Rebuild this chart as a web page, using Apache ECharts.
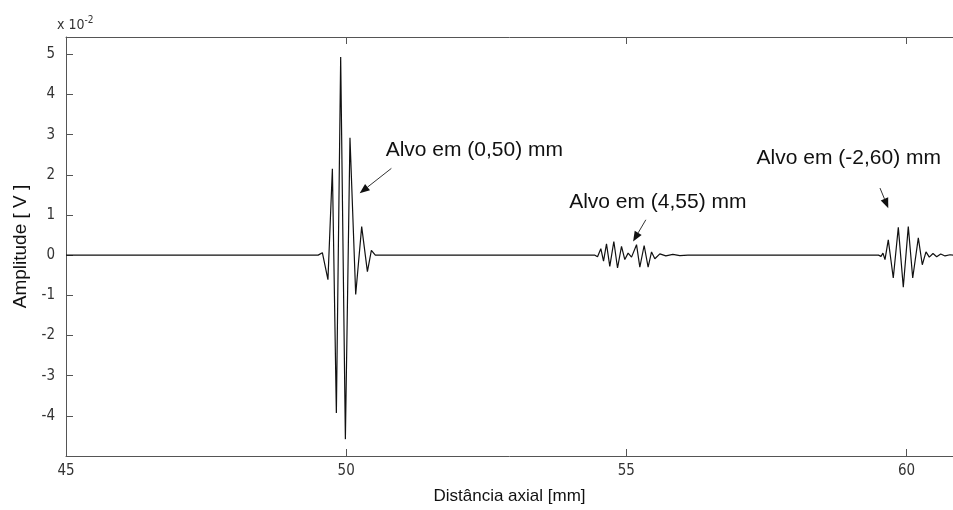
<!DOCTYPE html>
<html><head><meta charset="utf-8">
<script src="https://cdn.jsdelivr.net/npm/echarts/dist/echarts.min.js"></script>
<style>html,body{margin:0;padding:0;background:#fff}#c{width:953px;height:510px}</style>
</head><body><div id="c"></div>
<script>
// Axis ticks
const xTicks = [45, 50, 55, 60];
const yTicks = [-4, -3, -2, -1, 0, 1, 2, 3, 4, 5];
const xRange = [45, 60.83];
const yRange = [-5, 5.43];

// Echo from target (0,50) mm  — amplitude in units of 1e-2 V
const pulse1X = [49.50, 49.575, 49.675, 49.754, 49.825, 49.902, 49.986, 50.068, 50.170, 50.277, 50.379, 50.45, 50.52];
const pulse1Y = [0, 0.06, -0.61, 2.15, -3.93, 4.93, -4.58, 2.92, -0.98, 0.71, -0.41, 0.12, 0];

// Echo from target (4,55) mm
const pulse2X = [54.44, 54.486, 54.545, 54.593, 54.646, 54.705, 54.777, 54.843, 54.914, 54.973, 55.032, 55.093, 55.182, 55.241, 55.318, 55.389, 55.45, 55.509, 55.598, 55.705, 55.83, 55.955, 56.1];
const pulse2Y = [0, -0.04, 0.16, -0.15, 0.28, -0.28, 0.34, -0.32, 0.22, -0.11, 0.05, -0.05, 0.26, -0.30, 0.24, -0.30, 0.08, -0.09, 0.03, -0.02, 0.02, -0.01, 0];

// Echo from target (-2,60) mm
const pulse3X = [59.50, 59.545, 59.58, 59.616, 59.675, 59.764, 59.854, 59.943, 60.032, 60.111, 60.211, 60.282, 60.348, 60.407, 60.473, 60.539, 60.611, 60.688, 60.777];
const pulse3Y = [0, -0.03, 0.05, -0.11, 0.38, -0.57, 0.69, -0.80, 0.71, -0.57, 0.43, -0.24, 0.08, -0.05, 0.04, -0.04, 0.03, -0.02, 0.01];

// Annotations (data coordinates)
const noteTexts = ['Alvo em (0,50) mm', 'Alvo em (4,55) mm', 'Alvo em (-2,60) mm'];
const noteAt = [[50.705, 2.62], [53.98, 1.32], [57.325, 2.41]];
const arrowFrom = [[50.807, 2.16], [55.348, 0.88], [59.527, 1.67]];
const arrowTo = [[50.241, 1.54], [55.121, 0.34], [59.675, 1.17]];

const data = [[xRange[0], 0]];
[[pulse1X, pulse1Y], [pulse2X, pulse2Y], [pulse3X, pulse3Y]].forEach(([xs, ys]) => {
  xs.forEach((x, i) => data.push([x, ys[i]]));
});
data.push([xRange[1], 0]);

const axisColor = '#555';
const labelFont = '"DejaVu Sans Condensed", "Liberation Sans Narrow", "Liberation Sans", sans-serif';
const chart = echarts.init(document.getElementById('c'), null, {renderer: 'canvas'});
chart.setOption({
  animation: false,
  backgroundColor: '#fff',
  grid: {left: 66, right: 0, top: 37, bottom: 53, containLabel: false},
  xAxis: [{
    type: 'value', min: xRange[0], max: xRange[1], interval: 5, position: 'bottom',
    axisLine: {onZero: false, lineStyle: {color: axisColor, width: 1}},
    axisTick: {inside: true, length: 7, lineStyle: {color: axisColor}},
    axisLabel: {formatter: v => xTicks.includes(v) ? String(v) : '', color: '#333', fontSize: 15, fontFamily: labelFont, margin: 8, showMaxLabel: false},
    splitLine: {show: false},
    name: 'Distância axial [mm]', nameLocation: 'middle', nameGap: 32,
    nameTextStyle: {fontSize: 17, color: '#111', fontFamily: 'Liberation Sans, Arial, sans-serif'}
  }, {
    type: 'value', min: xRange[0], max: xRange[1], interval: 5, position: 'top',
    axisLine: {onZero: false, lineStyle: {color: axisColor, width: 1}},
    axisTick: {inside: true, length: 7, lineStyle: {color: axisColor}},
    axisLabel: {show: false}, splitLine: {show: false}
  }],
  yAxis: [{
    type: 'value', min: yRange[0], max: yRange[1], interval: 1, position: 'left',
    axisLine: {show: true, onZero: false, lineStyle: {color: axisColor, width: 1}},
    axisTick: {show: true, inside: true, length: 7, lineStyle: {color: axisColor}},
    axisLabel: {formatter: v => yTicks.includes(v) ? String(v) : '', color: '#333', fontSize: 15, fontFamily: labelFont, margin: 11, showMaxLabel: false, showMinLabel: false},
    splitLine: {show: false},
    name: 'Amplitude [ V ]', nameLocation: 'middle', nameGap: 36, nameRotate: 90,
    nameTextStyle: {fontSize: 19, color: '#111', fontFamily: 'Liberation Sans, Arial, sans-serif'}
  }],
  series: [{
    type: 'line', xAxisIndex: 0, yAxisIndex: 0, data: data, showSymbol: false, symbol: 'none',
    lineStyle: {color: '#111', width: 1.2}, smooth: false
  }]
});

// Annotations via axis scales
const g = [];
const toPx = p => chart.convertToPixel({xAxisIndex: 0, yAxisIndex: 0}, p);
noteTexts.forEach((t, i) => {
  const p = toPx(noteAt[i]);
  g.push({type: 'text', x: p[0], y: p[1], style: {text: t, fill: '#111', font: '21px "Liberation Sans", Arial, sans-serif', textVerticalAlign: 'middle', textAlign: 'left'}});
  const a = toPx(arrowFrom[i]), b = toPx(arrowTo[i]);
  const dx = b[0] - a[0], dy = b[1] - a[1], L = Math.hypot(dx, dy);
  const ux = dx / L, uy = dy / L, nx = -uy, ny = ux;
  const hl = 10, hw = 4;
  const bx = b[0] - ux * hl, by = b[1] - uy * hl;
  g.push({type: 'line', shape: {x1: a[0], y1: a[1], x2: bx, y2: by}, style: {stroke: '#333', lineWidth: 1}});
  g.push({type: 'polygon', shape: {points: [[b[0], b[1]], [bx + nx * hw, by + ny * hw], [bx - nx * hw, by - ny * hw]]}, style: {fill: '#111'}});
});
const corner = toPx([xRange[0], yRange[1]]);
g.push({type: 'text', x: corner[0] - 9, y: corner[1] - 12, style: {
  text: '{a|x 10}{b|-2}', textVerticalAlign: 'middle',
  rich: {a: {fontSize: 14, fontFamily: labelFont, fill: '#333'}, b: {fontSize: 10, fontFamily: labelFont, fill: '#333', verticalAlign: 'top', padding: [0, 0, 9, 0]}}
}});
chart.setOption({graphic: g});
</script>
</body></html>
